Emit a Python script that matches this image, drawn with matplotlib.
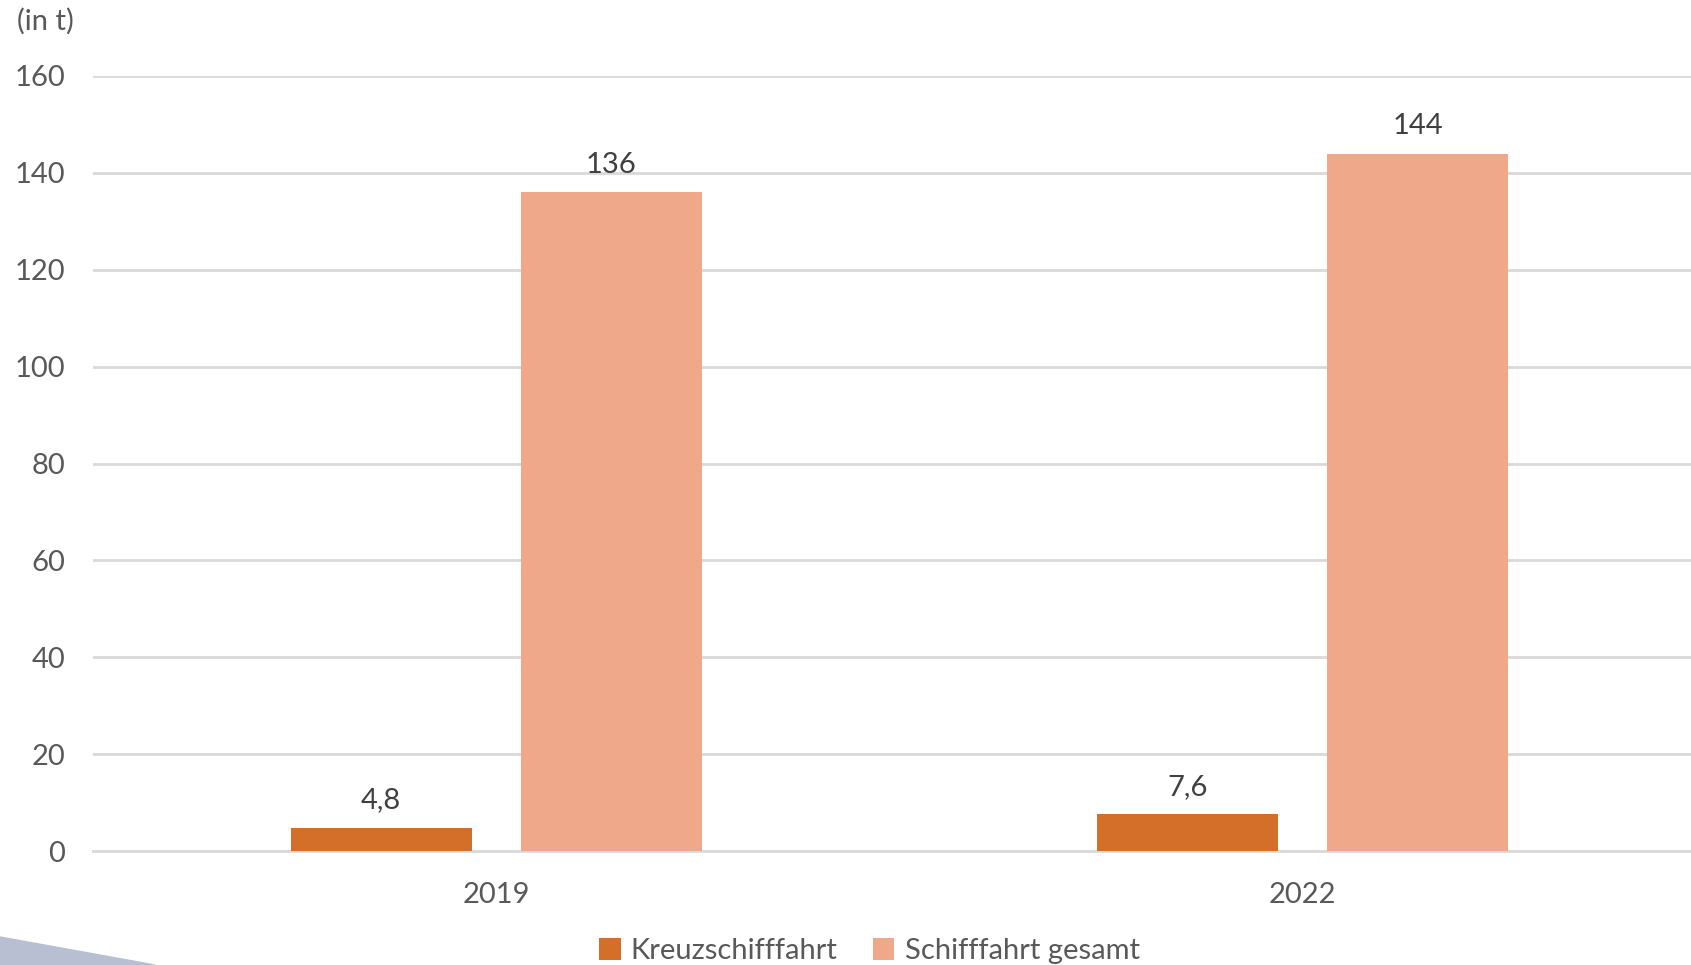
import matplotlib.pyplot as plt
import numpy as np
from matplotlib.patches import Polygon

# data
years = ["2019", "2022"]
kreuz = [4.8, 7.6]
gesamt = [136, 144]
kreuz_labels = ["4,8", "7,6"]
gesamt_labels = ["136", "144"]
yticks = [0, 20, 40, 60, 80, 100, 120, 140, 160]

plt.rcParams['font.family'] = ['Lato', 'DejaVu Sans']
txt = '#595959'
fs = 21

fig = plt.figure(figsize=(16.91, 9.65), dpi=100)
W, H = 1691, 965
# axes in pixel coords: left 93, right 1706, y0 at 851, y160 at 76
ax = fig.add_axes([93 / W, (H - 851) / H, (1706 - 93) / W, (851 - 76) / H])

x = np.arange(len(years))
bw = 0.224
off = 0.1426
c1 = '#D46F2A'
c2 = '#F0A88A'
ax.bar(x - off, kreuz, bw, color=c1, label='Kreuzschifffahrt', zorder=3)
ax.bar(x + off, gesamt, bw, color=c2, label='Schifffahrt gesamt', zorder=3)

for xi, v, s in zip(x - off, kreuz, kreuz_labels):
    ax.text(xi, v + 3, s, ha='center', va='bottom', fontsize=fs, color='#404040')
for xi, v, s in zip(x + off, gesamt, gesamt_labels):
    ax.text(xi, v + 3, s, ha='center', va='bottom', fontsize=fs, color='#404040')

ax.set_xlim(-0.5, 1.5)
ax.set_ylim(0, 160)
ax.set_yticks(yticks)
ax.set_yticklabels([str(t) for t in yticks])
ax.set_xticks(x)
ax.set_xticklabels(years)
ax.tick_params(axis='both', length=0, labelsize=fs, labelcolor=txt)
ax.tick_params(axis='y', pad=20)
ax.tick_params(axis='x', pad=22)
ax.grid(axis='y', color='#D9D9D9', linewidth=2, zorder=0)
for sp in ['top', 'right', 'left']:
    ax.spines[sp].set_visible(False)
ax.spines['bottom'].set_color('#D9D9D9')
ax.spines['bottom'].set_linewidth(2)

fig.text(17 / W, 1 - 21 / H, "(in t)", fontsize=fs, color=txt, va='center', ha='left')

fig.legend(loc='center', bbox_to_anchor=(0.514, 1 - 951 / H), ncol=2, frameon=False,
           fontsize=fs, labelcolor=txt, handlelength=0.75, handleheight=0.75,
           handletextpad=0.35, columnspacing=1.2)

# decorative corner shape
fig.patches.append(Polygon([[0, 0], [0, (H - 937) / H], [155 / W, 0]], closed=True,
                           transform=fig.transFigure, color='#B8BFD3', zorder=0))

fig.savefig('out.png', dpi=100)
